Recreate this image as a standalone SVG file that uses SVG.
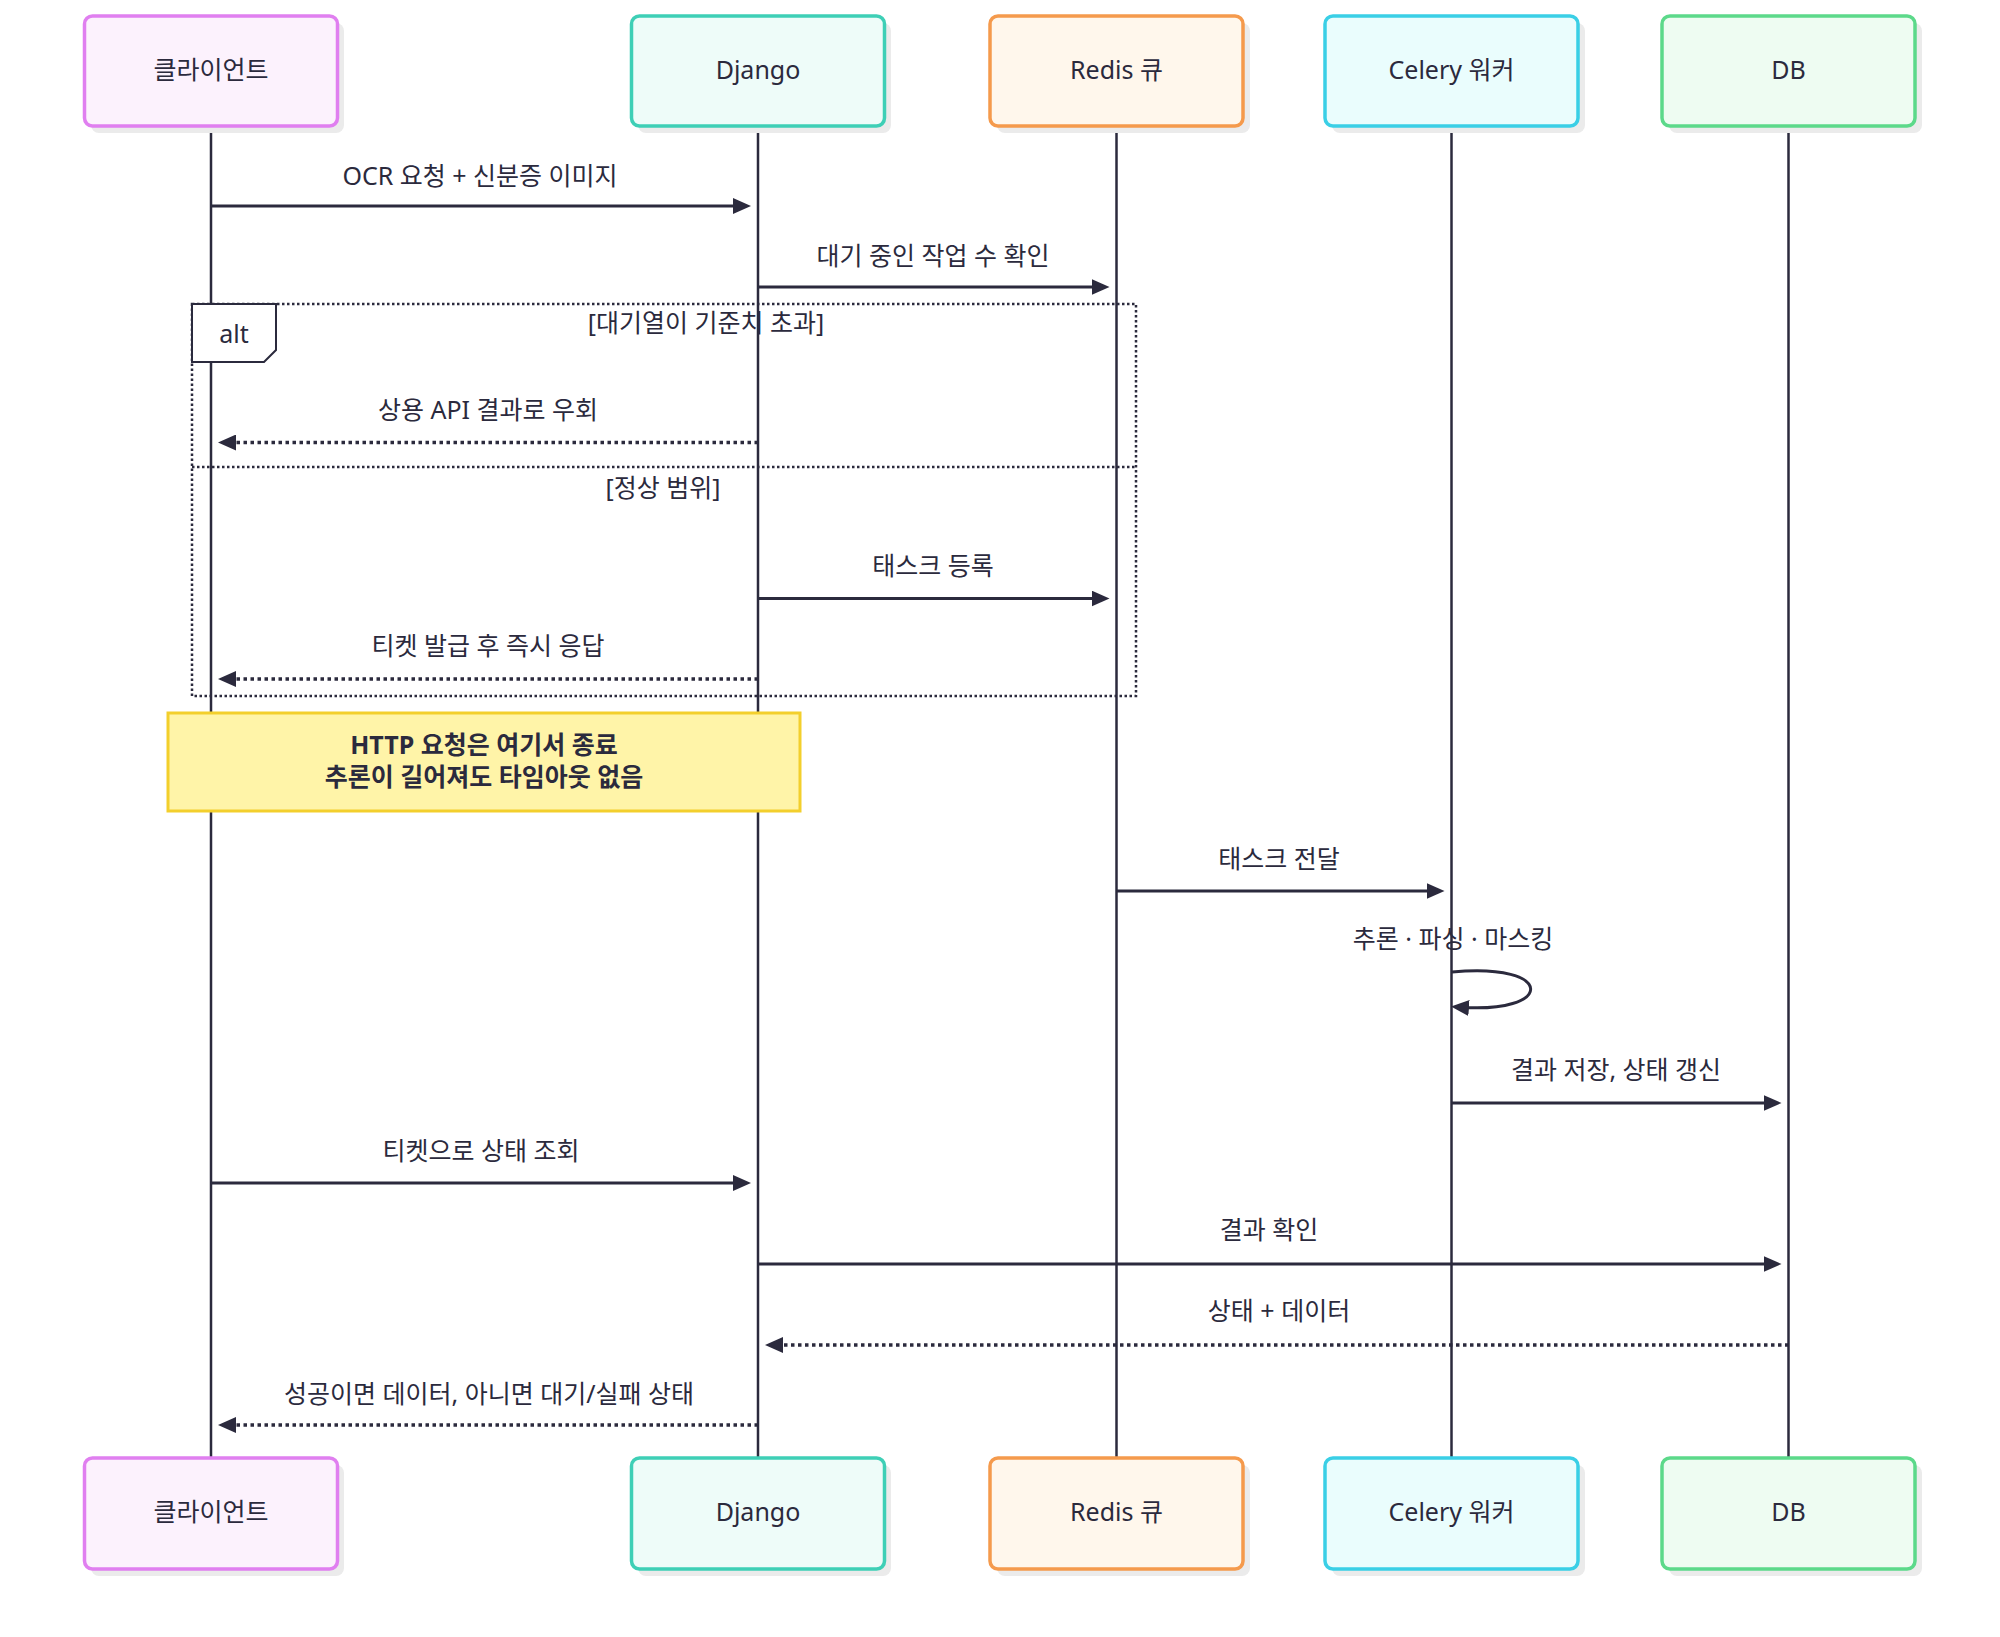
<svg xmlns="http://www.w3.org/2000/svg" width="2000" height="1637" viewBox="0 0 2000 1637">
<style>
text{font-family:"Noto Sans","Noto Sans CJK KR",sans-serif;fill:#2b2a3d;text-anchor:middle;dominant-baseline:central}
.lbl{font-size:25px}
.act{font-size:25px}
.shadow{fill:#ebebeb}
.box{stroke-width:3.5}
.life{stroke:#2b2a3d;stroke-width:2.5;fill:none}
.msg{stroke:#2b2a3d;stroke-width:3;fill:none;marker-end:url(#ah)}
.dash{stroke-dasharray:3.5 3.5;stroke-width:3.5}
.frame{stroke:#2b2a3d;stroke-width:2.5;fill:none;stroke-dasharray:2.5 2.5}
.c1{fill:#fcf2fd;stroke:#e07ff0}
.c2{fill:#eefcf9;stroke:#3ecfb6}
.c3{fill:#fff7ec;stroke:#f59a4c}
.c4{fill:#eafdfd;stroke:#3acfe6}
.c5{fill:#eefcf2;stroke:#5cd98a}
</style>
<defs>
<marker id="ah" markerUnits="userSpaceOnUse" markerWidth="18" markerHeight="16" refX="12" refY="8" orient="auto">
<path d="M0,0 L18,8 L0,16 z" fill="#2b2a3d"/>
</marker>
</defs>
<rect width="2000" height="1637" fill="#ffffff"/>
<g id="lifelines">
<line class="life" x1="211" y1="126" x2="211" y2="1458"/>
<line class="life" x1="758" y1="126" x2="758" y2="1458"/>
<line class="life" x1="1116.5" y1="126" x2="1116.5" y2="1458"/>
<line class="life" x1="1451.5" y1="126" x2="1451.5" y2="1458"/>
<line class="life" x1="1788.5" y1="126" x2="1788.5" y2="1458"/>
</g>
<g id="alt-frame">
<rect class="frame" x="192" y="304" width="944" height="392"/>
<line class="frame" x1="192" y1="467" x2="1136" y2="467"/>
<text class="lbl" x="706" y="322">[대기열이 기준치 초과]</text>
<text class="lbl" x="663" y="487">[정상 범위]</text>
</g>
<g id="connectors">
<line class="msg" x1="211" y1="206" x2="745" y2="206"/>
<text class="lbl" x="480" y="175">OCR 요청 + 신분증 이미지</text>
<line class="msg" x1="758" y1="287" x2="1103.5" y2="287"/>
<text class="lbl" x="933" y="255">대기 중인 작업 수 확인</text>
<line class="msg dash" x1="758" y1="442.5" x2="224" y2="442.5"/>
<text class="lbl" x="488" y="409">상용 API 결과로 우회</text>
<line class="msg" x1="758" y1="598.5" x2="1103.5" y2="598.5"/>
<text class="lbl" x="933" y="565">태스크 등록</text>
<line class="msg dash" x1="758" y1="679" x2="224" y2="679"/>
<text class="lbl" x="488" y="645">티켓 발급 후 즉시 응답</text>
<line class="msg" x1="1116.5" y1="891" x2="1438.5" y2="891"/>
<text class="lbl" x="1279" y="858">태스크 전달</text>
<path class="msg" d="M1452,972 C1556,962 1556,1015 1457,1007"/>
<text class="lbl" x="1453" y="938">추론 · 파싱 · 마스킹</text>
<line class="msg" x1="1451.5" y1="1103" x2="1775.5" y2="1103"/>
<text class="lbl" x="1616" y="1069">결과 저장, 상태 갱신</text>
<line class="msg" x1="211" y1="1183" x2="745" y2="1183"/>
<text class="lbl" x="481" y="1150">티켓으로 상태 조회</text>
<line class="msg" x1="758" y1="1264" x2="1775.5" y2="1264"/>
<text class="lbl" x="1269" y="1229">결과 확인</text>
<line class="msg dash" x1="1788.5" y1="1345" x2="771" y2="1345"/>
<text class="lbl" x="1279" y="1310">상태 + 데이터</text>
<line class="msg dash" x1="758" y1="1425" x2="224" y2="1425"/>
<text class="lbl" x="489" y="1393">성공이면 데이터, 아니면 대기/실패 상태</text>
</g>
<g id="alt-label">
<polygon points="192,304 276,304 276,350 264,362 192,362" fill="#ffffff" stroke="#2b2a3d" stroke-width="2"/>
<text class="lbl" x="234" y="333">alt</text>
</g>
<g id="note">
<rect x="168" y="713" width="632" height="98" fill="#fff4a8" stroke="#f3cf2c" stroke-width="3"/>
<text class="lbl" x="484" y="744" font-weight="bold">HTTP 요청은 여기서 종료</text>
<text class="lbl" x="484" y="776" font-weight="bold">추론이 길어져도 타임아웃 없음</text>
</g>
<g id="actor-client-top">
<rect class="shadow" x="91" y="23" width="253" height="110" rx="8"/>
<rect class="box c1" x="84.5" y="16" width="253" height="110" rx="8"/>
<text class="act" x="211" y="69">클라이언트</text>
</g>
<g id="actor-django-top">
<rect class="shadow" x="638" y="23" width="253" height="110" rx="8"/>
<rect class="box c2" x="631.5" y="16" width="253" height="110" rx="8"/>
<text class="act" x="758" y="69">Django</text>
</g>
<g id="actor-redis-top">
<rect class="shadow" x="997" y="23" width="253" height="110" rx="8"/>
<rect class="box c3" x="990" y="16" width="253" height="110" rx="8"/>
<text class="act" x="1116.5" y="69">Redis 큐</text>
</g>
<g id="actor-celery-top">
<rect class="shadow" x="1332" y="23" width="253" height="110" rx="8"/>
<rect class="box c4" x="1325" y="16" width="253" height="110" rx="8"/>
<text class="act" x="1451.5" y="69">Celery 워커</text>
</g>
<g id="actor-db-top">
<rect class="shadow" x="1669" y="23" width="253" height="110" rx="8"/>
<rect class="box c5" x="1662" y="16" width="253" height="110" rx="8"/>
<text class="act" x="1788.5" y="69">DB</text>
</g>
<g id="actor-client-bottom">
<rect class="shadow" x="91" y="1465" width="253" height="111" rx="8"/>
<rect class="box c1" x="84.5" y="1458" width="253" height="111" rx="8"/>
<text class="act" x="211" y="1511">클라이언트</text>
</g>
<g id="actor-django-bottom">
<rect class="shadow" x="638" y="1465" width="253" height="111" rx="8"/>
<rect class="box c2" x="631.5" y="1458" width="253" height="111" rx="8"/>
<text class="act" x="758" y="1511">Django</text>
</g>
<g id="actor-redis-bottom">
<rect class="shadow" x="997" y="1465" width="253" height="111" rx="8"/>
<rect class="box c3" x="990" y="1458" width="253" height="111" rx="8"/>
<text class="act" x="1116.5" y="1511">Redis 큐</text>
</g>
<g id="actor-celery-bottom">
<rect class="shadow" x="1332" y="1465" width="253" height="111" rx="8"/>
<rect class="box c4" x="1325" y="1458" width="253" height="111" rx="8"/>
<text class="act" x="1451.5" y="1511">Celery 워커</text>
</g>
<g id="actor-db-bottom">
<rect class="shadow" x="1669" y="1465" width="253" height="111" rx="8"/>
<rect class="box c5" x="1662" y="1458" width="253" height="111" rx="8"/>
<text class="act" x="1788.5" y="1511">DB</text>
</g>
</svg>
